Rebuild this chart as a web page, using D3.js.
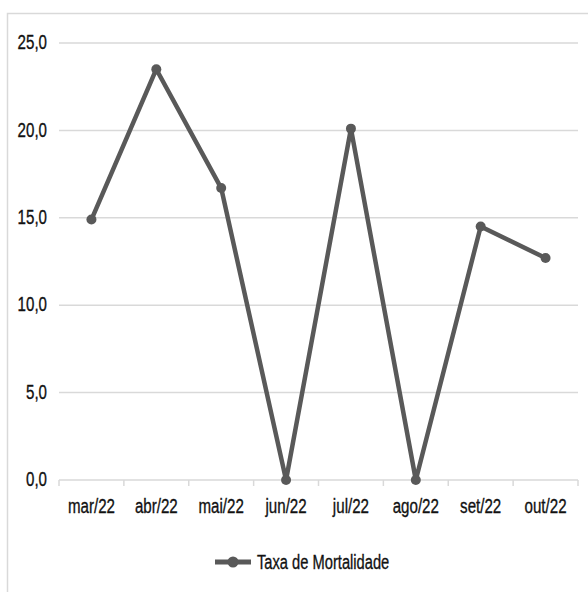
<!DOCTYPE html>
<html>
<head>
<meta charset="utf-8">
<script src="https://cdn.jsdelivr.net/npm/d3@7"></script>
<style>
  body { margin: 0; background: #fff; }
  svg text { font-family: "Liberation Sans", Arial, sans-serif; fill: #111; stroke: #111; stroke-width: 0.35px; }
</style>
</head>
<body>
<div id="chart"></div>
<script>
var months = ["mar/22", "abr/22", "mai/22", "jun/22", "jul/22", "ago/22", "set/22", "out/22"];
var taxa = [14.9, 23.5, 16.7, 0, 20.1, 0, 14.5, 12.7];
var yTicks = [0, 5, 10, 15, 20, 25];
var seriesName = "Taxa de Mortalidade";

var width = 588, height = 592,
    margin = {top: 43, right: 10, bottom: 112, left: 59},
    lineColor = "#595959",
    gridColor = "#d9d9d9",
    fontSize = "21px",
    squeeze = "scale(0.72,1)"; // the labels are drawn in a narrow face

var data = months.map(function(m, i) { return {month: m, value: taxa[i]}; });

var svg = d3.select("#chart").append("svg")
    .attr("width", width)
    .attr("height", height);

// outer chart border (runs off the right/bottom edge)
svg.append("rect")
    .attr("x", 7.5).attr("y", 13.5)
    .attr("width", 700).attr("height", 700)
    .attr("fill", "none")
    .attr("stroke", gridColor)
    .attr("stroke-width", 1.5);

var x = d3.scaleBand()
    .domain(months)
    .range([margin.left, width - margin.right]);

var y = d3.scaleLinear()
    .domain([0, 25])
    .range([height - margin.bottom, margin.top]);

// gridlines
svg.append("g").selectAll("line")
    .data(yTicks)
  .enter().append("line")
    .attr("x1", x.range()[0]).attr("x2", x.range()[1])
    .attr("y1", function(d) { return y(d); })
    .attr("y2", function(d) { return y(d); })
    .attr("stroke", gridColor)
    .attr("stroke-width", 1.5);

// y labels
var yAxis = svg.append("g")
    .attr("transform", "translate(" + (margin.left - 12) + ",0)")
    .call(d3.axisLeft(y).tickValues(yTicks).tickSize(0)
      .tickFormat(function(d) { return d3.format(".1f")(d).replace(".", ","); }));
yAxis.select(".domain").remove();
yAxis.selectAll("text")
    .attr("x", 0)
    .attr("dy", "0.27em")
    .attr("transform", squeeze)
    .style("font-size", fontSize);

// x axis: ticks at band boundaries
var bounds = months.map(function(m) { return x(m); }).concat([x.range()[1]]);
svg.append("g").selectAll("line")
    .data(bounds)
  .enter().append("line")
    .attr("x1", function(d) { return d; }).attr("x2", function(d) { return d; })
    .attr("y1", y(0)).attr("y2", y(0) + 6)
    .attr("stroke", gridColor)
    .attr("stroke-width", 1.5);

var xAxis = svg.append("g")
    .attr("transform", "translate(0," + y(0) + ")")
    .call(d3.axisBottom(x).tickSize(0).tickPadding(18));
xAxis.select(".domain").remove();
xAxis.selectAll("text")
    .attr("transform", squeeze)
    .style("font-size", fontSize);

// series line
var line = d3.line()
    .x(function(d) { return x(d.month) + x.bandwidth() / 2; })
    .y(function(d) { return y(d.value); });

svg.append("path")
    .datum(data)
    .attr("d", line)
    .attr("fill", "none")
    .attr("stroke", lineColor)
    .attr("stroke-width", 4.5)
    .attr("stroke-linejoin", "round");

svg.append("g").selectAll("circle")
    .data(data)
  .enter().append("circle")
    .attr("cx", function(d) { return x(d.month) + x.bandwidth() / 2; })
    .attr("cy", function(d) { return y(d.value); })
    .attr("r", 5)
    .attr("fill", lineColor);

// legend
var legend = svg.append("g").attr("transform", "translate(215,562)");
legend.append("line")
    .attr("x1", 0).attr("x2", 36)
    .attr("stroke", lineColor)
    .attr("stroke-width", 5);
legend.append("circle")
    .attr("cx", 18).attr("r", 5.5)
    .attr("fill", lineColor);
legend.append("g")
    .attr("transform", "translate(42,0) scale(0.7,1)")
  .append("text")
    .attr("dy", "0.35em")
    .style("font-size", fontSize)
    .text(seriesName);
</script>
</body>
</html>
